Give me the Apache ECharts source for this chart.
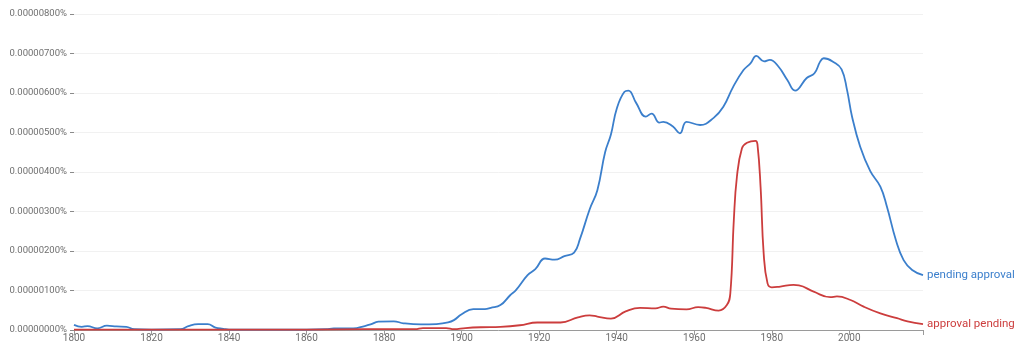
<!DOCTYPE html>
<html>
<head>
<meta charset="utf-8">
<script src="https://cdn.jsdelivr.net/npm/echarts@6/dist/echarts.min.js"></script>
<style>
  html, body { margin: 0; padding: 0; background: #fff; }
  #chart { width: 1024px; height: 350px; }
</style>
</head>
<body>
<div id="chart"></div>
<script>
// Frequencies are stored in millionths of a percent (1 = 0.00000100%).
const seriesNames = ['pending approval', 'approval pending'];

const pendingApprovalYears = [
  1800, 1802, 1803.5, 1806, 1808.5, 1811, 1813.5, 1815.5, 1820, 1827.5,
  1829.5, 1832, 1834.5, 1836.5, 1838.5, 1840, 1850, 1860, 1865, 1867,
  1872, 1875, 1876.5, 1878.5, 1882.5, 1885, 1889.5, 1893.5, 1896.5, 1898,
  1900, 1903, 1906, 1907.5, 1910, 1912.5, 1914, 1917, 1919, 1921.5,
  1924, 1926.5, 1929, 1930.5, 1933, 1935, 1937, 1938.5, 1940, 1942,
  1943, 1945, 1947.5, 1949, 1951, 1952, 1954.5, 1956.3, 1958, 1961.5,
  1965, 1967.5, 1970, 1972.7, 1974.5, 1976, 1978, 1979.5, 1981.7, 1984,
  1986, 1989, 1991, 1992.5, 1993.4, 1996, 1998, 1999.4, 2000.7, 2002.8,
  2005.4, 2008, 2009.7, 2012, 2014, 2016.2, 2019
];
const pendingApprovalValues = [
  0.13, 0.08, 0.10, 0.04, 0.11, 0.09, 0.08, 0.02, 0.01, 0.02,
  0.10, 0.15, 0.15, 0.06, 0.03, 0.01, 0.01, 0.01, 0.02, 0.04,
  0.04, 0.10, 0.14, 0.21, 0.22, 0.17, 0.14, 0.15, 0.19, 0.25,
  0.40, 0.53, 0.53, 0.56, 0.63, 0.88, 1.01, 1.39, 1.54, 1.81,
  1.78, 1.87, 1.96, 2.30, 3.05, 3.54, 4.50, 4.95, 5.60, 6.03,
  6.06, 5.75, 5.40, 5.48, 5.25, 5.27, 5.15, 4.98, 5.27, 5.19,
  5.37, 5.65, 6.15, 6.58, 6.75, 6.94, 6.80, 6.84, 6.67, 6.33,
  6.06, 6.38, 6.50, 6.80, 6.88, 6.78, 6.60, 6.08, 5.40, 4.64,
  4.02, 3.63, 3.12, 2.28, 1.77, 1.52, 1.39
];

const approvalPendingYears = [
  1800, 1815, 1830, 1860, 1875, 1888, 1890, 1896, 1898, 1901,
  1905, 1910, 1915, 1919.5, 1925.5, 1930, 1933, 1935, 1938.5, 1942.3,
  1946, 1950, 1952, 1954, 1958, 1961, 1963, 1966.3, 1968.4, 1969.3,
  1970.2, 1971, 1972.3, 1973.6, 1975.8, 1976.3, 1977.1, 1977.9, 1978.9, 1980,
  1982.2, 1985.6, 1987, 1990.8, 1995.1, 1996.8, 2000.3, 2003.7, 2008, 2012.3,
  2015, 2019
];
const approvalPendingValues = [
  0.01, 0.01, 0.01, 0.01, 0.02, 0.02, 0.05, 0.05, 0.02, 0.05,
  0.07, 0.08, 0.12, 0.19, 0.19, 0.32, 0.37, 0.34, 0.29, 0.47,
  0.56, 0.55, 0.59, 0.54, 0.52, 0.58, 0.56, 0.49, 0.63, 0.93,
  2.78, 3.88, 4.60, 4.74, 4.79, 4.70, 3.63, 1.94, 1.18, 1.08,
  1.10, 1.14, 1.13, 0.97, 0.83, 0.85, 0.76, 0.59, 0.42, 0.30,
  0.22, 0.15
];

const yearTicks = [1800, 1820, 1840, 1860, 1880, 1900, 1920, 1940, 1960, 1980, 2000];
const colors = ['#3b7fcc', '#cc3d3d'];

function pairs(xs, ys) {
  return xs.map((x, i) => [x, ys[i]]);
}

function lineSeries(name, xs, ys, color) {
  return {
    name: name,
    type: 'line',
    data: pairs(xs, ys),
    smooth: 0.45,
    showSymbol: false,
    lineStyle: { color: color, width: 1.8 },
    itemStyle: { color: color },
    endLabel: {
      show: true,
      formatter: '{a}',
      color: color,
      fontSize: 11.5,
      fontFamily: 'Roboto',
      distance: 4
    }
  };
}

const chart = echarts.init(document.getElementById('chart'));
chart.setOption({
  animation: false,
  backgroundColor: '#fff',
  grid: { left: 74, right: 101, top: 14, bottom: 20, containLabel: false },
  xAxis: {
    type: 'value',
    min: 1800,
    max: 2019,
    interval: 20,
    axisLine: { show: true, lineStyle: { color: '#9a9a9a', width: 1 } },
    axisTick: { show: true, length: 5, lineStyle: { color: '#9a9a9a' } },
    axisLabel: {
      color: '#6f6f6f',
      fontSize: 10,
      fontFamily: 'Roboto',
      margin: 3,
      customValues: yearTicks,
      formatter: v => String(v)
    },
    splitLine: { show: false }
  },
  yAxis: {
    type: 'value',
    min: 0,
    max: 8,
    interval: 1,
    axisLine: { show: false },
    axisTick: { show: true, length: 4, lineStyle: { color: '#8a8a8a' } },
    axisLabel: {
      color: '#6f6f6f',
      fontSize: 9.5,
      fontFamily: 'Roboto',
      margin: 7,
      formatter: v => (v * 1e-6).toFixed(8) + '%'
    },
    splitLine: { show: true, lineStyle: { color: '#f1f1f1', width: 1 } }
  },
  series: [
    lineSeries(seriesNames[0], pendingApprovalYears, pendingApprovalValues, colors[0]),
    lineSeries(seriesNames[1], approvalPendingYears, approvalPendingValues, colors[1])
  ]
});
</script>
</body>
</html>
